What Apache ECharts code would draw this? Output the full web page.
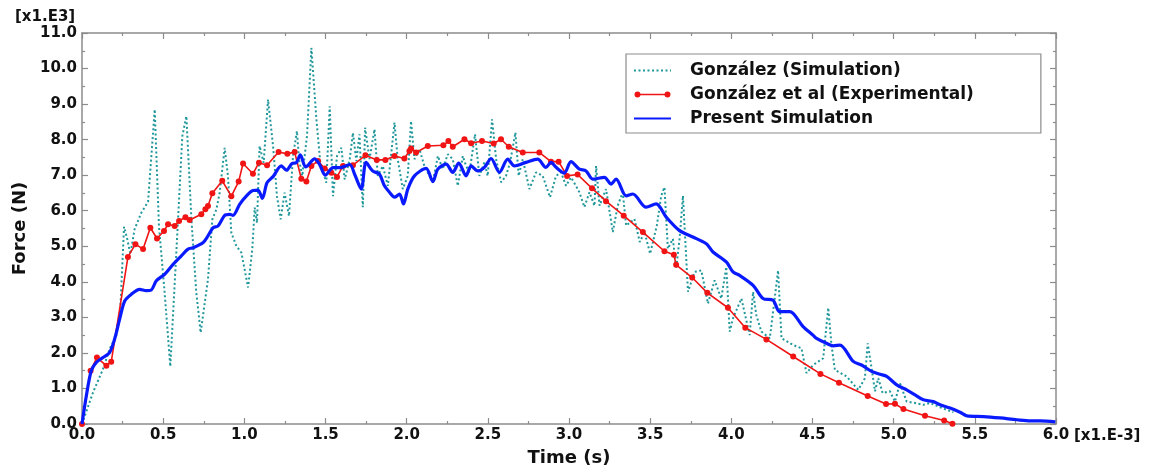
<!DOCTYPE html>
<html>
<head>
<meta charset="utf-8">
<script src="https://cdn.jsdelivr.net/npm/echarts@6/dist/echarts.min.js"></script>
<style>
html,body{margin:0;padding:0;background:#fff;}
#chart{width:1151px;height:472px;}
</style>
</head>
<body>
<div id="chart"></div>
<script>
// Time in [x1.E-3] s, Force in [x1.E3] N
const seriesNames = ['González (Simulation)', 'González et al (Experimental)', 'Present Simulation'];
const xAxisTitle = 'Time (s)';
const yAxisTitle = 'Force (N)';
const xScaleLabel = '[x1.E-3]';
const yScaleLabel = '[x1.E3]';

const gonzalezSim = [
[0,0],[0.068,0.89],[0.129,1.54],[0.170,2.11],[0.211,2.48],[0.236,3.23],[0.259,5.55],[0.279,5.20],[0.298,4.78],[0.324,5.48],[0.366,5.95],[0.407,6.25],[0.448,8.85],[0.474,5.57],[0.509,3.70],[0.544,1.62],[0.581,4.82],[0.618,8.10],[0.643,8.66],[0.674,5.76],[0.704,3.70],[0.731,2.57],[0.776,4.07],[0.803,5.76],[0.828,6.04],[0.848,6.51],[0.879,7.77],[0.899,6.98],[0.920,5.38],[0.951,5.01],[0.982,4.82],[1.023,3.84],[1.049,4.92],[1.064,6.09],[1.078,5.66],[1.094,7.82],[1.119,7.35],[1.146,9.13],[1.177,7.82],[1.201,6.41],[1.224,5.76],[1.248,6.51],[1.275,5.85],[1.300,7.54],[1.324,8.24],[1.337,7.44],[1.357,6.98],[1.386,8.10],[1.413,10.58],[1.444,8.57],[1.468,7.35],[1.505,6.79],[1.526,8.94],[1.546,6.41],[1.571,7.54],[1.598,7.77],[1.618,6.88],[1.649,7.44],[1.669,8.19],[1.690,7.40],[1.709,8.15],[1.730,6.10],[1.744,8.34],[1.771,7.45],[1.802,8.29],[1.822,6.98],[1.853,7.26],[1.884,6.70],[1.925,8.48],[1.945,7.45],[1.976,6.61],[2.007,6.98],[2.027,8.52],[2.048,7.45],[2.079,7.73],[2.109,7.26],[2.140,6.98],[2.161,6.80],[2.192,7.54],[2.222,7.17],[2.253,7.59],[2.284,7.45],[2.315,6.70],[2.346,7.54],[2.366,7.26],[2.387,7.08],[2.421,8.15],[2.448,6.98],[2.479,7.36],[2.499,6.98],[2.526,8.57],[2.551,7.45],[2.582,6.80],[2.612,6.98],[2.637,7.36],[2.670,8.20],[2.690,6.98],[2.715,7.45],[2.756,6.61],[2.797,7.08],[2.838,6.98],[2.883,6.38],[2.920,6.98],[2.951,7.08],[2.982,6.70],[3.012,6.94],[3.043,6.70],[3.064,6.52],[3.095,6.10],[3.126,6.52],[3.157,6.14],[3.167,7.26],[3.188,6.14],[3.228,6.61],[3.270,5.40],[3.300,6.14],[3.331,6.52],[3.352,5.58],[3.403,5.77],[3.436,5.12],[3.465,5.40],[3.500,4.79],[3.541,5.58],[3.568,6.42],[3.588,6.66],[3.609,4.93],[3.640,5.21],[3.660,4.37],[3.681,5.21],[3.702,6.42],[3.733,3.72],[3.774,4.28],[3.815,4.32],[3.856,3.39],[3.897,4.04],[3.938,3.53],[3.969,4.42],[3.990,2.60],[4.010,2.97],[4.062,3.53],[4.113,2.50],[4.134,3.72],[4.154,3.06],[4.185,2.60],[4.237,2.41],[4.288,4.32],[4.309,2.41],[4.381,2.22],[4.432,2.13],[4.463,1.43],[4.504,1.66],[4.566,1.85],[4.597,3.27],[4.617,2.22],[4.638,1.52],[4.710,1.34],[4.782,0.96],[4.823,1.29],[4.840,2.27],[4.864,1.57],[4.885,0.92],[4.905,1.29],[4.932,0.87],[4.977,0.92],[5.008,0.63],[5.039,1.15],[5.080,0.63],[5.132,0.59],[5.183,0.54],[5.224,0.59],[5.286,0.47],[5.327,0.40],[5.368,0.33]
];

const gonzalezExp = [
[0,0],[0.053,1.5],[0.092,1.87],[0.15,1.64],[0.18,1.75],[0.283,4.70],[0.329,5.06],[0.376,4.92],[0.421,5.52],[0.462,5.22],[0.505,5.43],[0.530,5.62],[0.571,5.57],[0.598,5.71],[0.637,5.82],[0.663,5.74],[0.735,5.90],[0.760,6.04],[0.776,6.13],[0.803,6.49],[0.864,6.84],[0.920,6.41],[0.965,6.82],[0.992,7.33],[1.053,7.04],[1.090,7.35],[1.140,7.28],[1.211,7.65],[1.265,7.60],[1.310,7.65],[1.351,6.90],[1.382,6.82],[1.413,7.26],[1.454,7.40],[1.495,7.19],[1.536,7.07],[1.571,6.95],[1.608,7.26],[1.669,7.28],[1.746,7.56],[1.816,7.43],[1.869,7.43],[1.925,7.54],[1.986,7.47],[2.017,7.68],[2.027,7.75],[2.058,7.64],[2.13,7.82],[2.226,7.84],[2.257,7.96],[2.284,7.80],[2.356,8.01],[2.397,7.90],[2.464,7.96],[2.536,7.89],[2.581,8.01],[2.629,7.80],[2.715,7.64],[2.817,7.64],[2.889,7.38],[2.936,7.38],[2.988,6.98],[3.053,7.02],[3.142,6.63],[3.228,6.27],[3.337,5.86],[3.455,5.40],[3.588,4.86],[3.646,4.76],[3.660,4.48],[3.759,4.12],[3.852,3.69],[3.979,3.27],[4.086,2.71],[4.216,2.38],[4.381,1.90],[4.549,1.41],[4.663,1.16],[4.840,0.79],[4.953,0.56],[5.008,0.57],[5.06,0.42],[5.193,0.23],[5.311,0.10],[5.362,0.01]
];

const presentSim = [
[0,0],[0.027,0.80],[0.057,1.50],[0.088,1.73],[0.129,1.87],[0.170,2.01],[0.201,2.39],[0.232,2.95],[0.263,3.46],[0.304,3.65],[0.355,3.79],[0.396,3.75],[0.427,3.77],[0.458,4.03],[0.509,4.21],[0.561,4.49],[0.612,4.73],[0.653,4.92],[0.684,4.96],[0.745,5.10],[0.776,5.29],[0.807,5.52],[0.838,5.57],[0.879,5.87],[0.910,5.90],[0.930,5.87],[0.971,6.18],[1.012,6.41],[1.053,6.57],[1.084,6.58],[1.111,6.35],[1.14,6.79],[1.177,6.96],[1.228,7.26],[1.259,7.14],[1.294,7.33],[1.320,7.35],[1.345,7.57],[1.378,7.23],[1.433,7.46],[1.464,7.30],[1.499,7.00],[1.546,7.21],[1.587,7.21],[1.649,7.30],[1.680,7.02],[1.720,6.61],[1.750,7.36],[1.790,7.12],[1.832,7.03],[1.863,6.70],[1.894,6.52],[1.925,6.38],[1.956,6.47],[1.980,6.19],[2.007,6.61],[2.048,6.98],[2.120,7.19],[2.161,6.82],[2.192,7.17],[2.243,7.31],[2.284,7.08],[2.321,7.34],[2.366,6.98],[2.397,7.26],[2.438,7.12],[2.479,7.22],[2.520,7.47],[2.571,7.08],[2.623,7.45],[2.664,7.26],[2.735,7.36],[2.807,7.45],[2.858,7.22],[2.889,7.36],[2.920,7.22],[2.971,7.06],[3.012,7.38],[3.064,7.17],[3.105,7.12],[3.146,6.89],[3.218,6.94],[3.259,6.75],[3.290,6.89],[3.352,6.42],[3.393,6.47],[3.475,6.10],[3.537,6.19],[3.599,5.82],[3.681,5.44],[3.763,5.26],[3.846,5.07],[3.887,4.84],[3.969,4.56],[4.010,4.28],[4.051,4.18],[4.134,3.90],[4.195,3.53],[4.257,3.48],[4.298,3.16],[4.360,3.16],[4.442,2.74],[4.503,2.50],[4.525,2.41],[4.586,2.27],[4.628,2.20],[4.669,2.22],[4.751,1.76],[4.802,1.66],[4.864,1.48],[4.916,1.40],[4.957,1.34],[5.019,1.10],[5.080,0.96],[5.132,0.82],[5.183,0.68],[5.245,0.63],[5.286,0.54],[5.348,0.45],[5.409,0.33],[5.451,0.23],[5.553,0.21],[5.656,0.17],[5.759,0.12],[5.842,0.09],[5.903,0.09],[5.996,0.06]
];

const FONT = '"DejaVu Sans", Verdana, sans-serif';
const axisColor = '#8c8c8c';
const fmt = v => v.toFixed(1);
// legend icon: line with a dot at each end (37 x 14 box)
const dotLineIcon = 'path://M18,0L18.01,0L18.01,0.01Z M18,14L18.01,14L18.01,13.99Z ' +
  'M0.5,7A3,3 0 1,1 6.5,7A3,3 0 1,1 0.5,7Z M3,6.2L34,6.2L34,7.8L3,7.8Z M30.5,7A3,3 0 1,1 36.5,7A3,3 0 1,1 30.5,7Z';

const chart = echarts.init(document.getElementById('chart'), null, {renderer: 'canvas'});

function baseAxis(extra) {
  return Object.assign({
    type: 'value',
    axisLine: {show: true, onZero: false, lineStyle: {color: axisColor, width: 1.5}},
    axisTick: {show: true, inside: true, length: 6, lineStyle: {color: axisColor, width: 1.2}},
    minorTick: {show: true, splitNumber: 2, length: 3, lineStyle: {color: axisColor, width: 1.2}},
    splitLine: {show: false},
    minorSplitLine: {show: false}
  }, extra);
}

const option = {
  backgroundColor: '#ffffff',
  animation: false,
  grid: {left: 82, top: 33, width: 974, height: 393, containLabel: false},
  legend: {
    orient: 'vertical',
    left: 626, top: 54,
    padding: [8, 67, 6, 7],
    itemGap: 7,
    itemWidth: 37, itemHeight: 14,
    borderColor: '#8c8c8c', borderWidth: 1.2,
    backgroundColor: '#fff',
    textStyle: {fontFamily: FONT, fontWeight: 'bold', fontSize: 17, color: '#111', padding: [0, 0, 0, 14]},
    data: [
      {name: seriesNames[0], itemStyle: {opacity: 0}},
      {name: seriesNames[1], icon: dotLineIcon, itemStyle: {color: '#f01414', borderWidth: 0}},
      {name: seriesNames[2], itemStyle: {opacity: 0}}
    ]
  },
  xAxis: [
    baseAxis({
      position: 'bottom', min: 0, max: 6, interval: 0.5,
      name: xAxisTitle, nameLocation: 'middle', nameGap: 25,
      nameTextStyle: {fontFamily: FONT, fontWeight: 'bold', fontSize: 18, color: '#111'},
      axisLabel: {formatter: fmt, fontFamily: FONT, fontWeight: 'bold', fontSize: 15, color: '#111', margin: 4}
    }),
    baseAxis({position: 'top', min: 0, max: 6, interval: 0.5, axisLabel: {show: false}})
  ],
  yAxis: [
    baseAxis({
      position: 'left', min: 0, max: 11, interval: 1,
      name: yAxisTitle, nameLocation: 'middle', nameGap: 53, nameRotate: 90,
      nameTextStyle: {fontFamily: FONT, fontWeight: 'bold', fontSize: 18, color: '#111'},
      axisLabel: {formatter: fmt, fontFamily: FONT, fontWeight: 'bold', fontSize: 15, color: '#111', margin: 5}
    }),
    baseAxis({position: 'right', min: 0, max: 11, interval: 1, axisLabel: {show: false}})
  ],
  graphic: [
    {type: 'text', left: 15, top: 10, style: {text: yScaleLabel, fontFamily: FONT, fontWeight: 'bold', fontSize: 15, fill: '#111'}},
    {type: 'text', left: 1074, top: 429, style: {text: xScaleLabel, fontFamily: FONT, fontWeight: 'bold', fontSize: 15, fill: '#111'}}
  ],
  series: [
    {
      name: seriesNames[0], type: 'line', xAxisIndex: 0, yAxisIndex: 0,
      data: gonzalezSim, symbol: 'none', z: 2,
      lineStyle: {color: '#20979a', width: 2, type: [2, 2.5]},
      itemStyle: {color: '#20979a'}
    },
    {
      name: seriesNames[1], type: 'line', xAxisIndex: 0, yAxisIndex: 0,
      data: gonzalezExp, symbol: 'circle', symbolSize: 6, showSymbol: true, z: 3,
      lineStyle: {color: '#f01414', width: 1.6},
      itemStyle: {color: '#f01414'}
    },
    {
      name: seriesNames[2], type: 'line', xAxisIndex: 0, yAxisIndex: 0,
      data: presentSim, symbol: 'none', smooth: 0.3, z: 4,
      lineStyle: {color: '#0a1aff', width: 3.2},
      itemStyle: {color: '#0a1aff'}
    }
  ]
};
chart.setOption(option);
</script>
</body>
</html>
